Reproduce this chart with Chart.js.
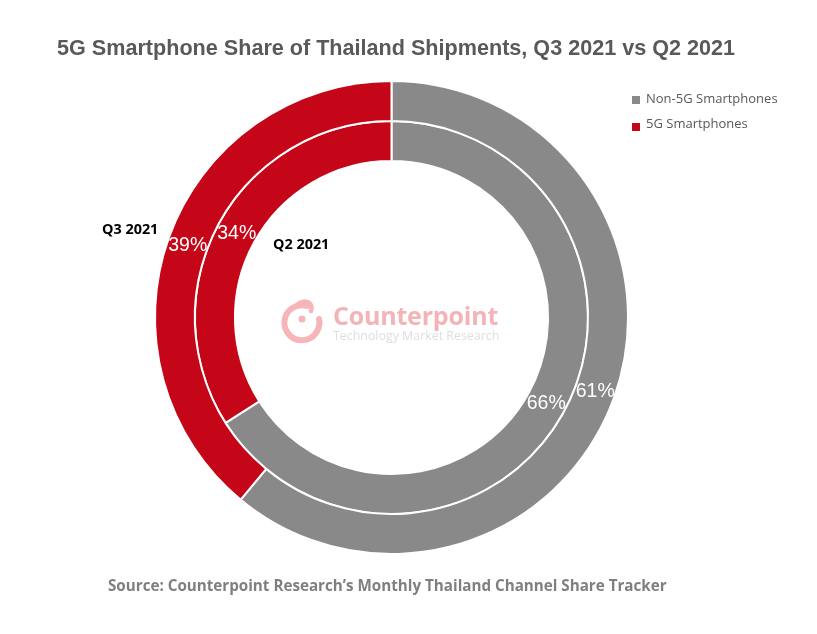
<!DOCTYPE html>
<html>
<head>
<meta charset="utf-8">
<script src="https://cdn.jsdelivr.net/npm/chart.js@4"></script>
<style>
  html, body { margin: 0; padding: 0; background: #fff; }
  #wrap { position: relative; width: 817px; height: 634px; overflow: hidden; }
  #wrap div { position: absolute; white-space: nowrap; }
  #title { left: 57px; top: 35px; font: bold 21.6px "Liberation Sans", sans-serif; color: #595959; }
  #source { left: 108px; top: 575px; font: bold 15.2px "Open Sans", sans-serif; color: #7f7f7f; }
  .ring { font: bold 14.4px "Open Sans", sans-serif; color: #000; }
  .key { left: 646px; font: 13px "Open Sans", sans-serif; color: #595959; }
  .swatch { left: 632px; width: 8px; height: 8px; }
  #brand { left: 333px; top: 298px; font: bold 25px "Open Sans", sans-serif; color: #f3b4b8; letter-spacing: -0.2px; }
  #tagline { left: 333px; top: 327px; font: 12.4px "Open Sans", sans-serif; color: #dedede; }
  svg { position: absolute; left: 281px; top: 298px; }
</style>
</head>
<body>
<div id="wrap">
  <canvas id="chart" width="817" height="634"></canvas>
  <div id="title">5G Smartphone Share of Thailand Shipments, Q3 2021 vs Q2 2021</div>
  <svg width="46" height="50" viewBox="0 0 46 50">
    <path d="M26 8 A17.5 17.5 0 1 0 38 21" fill="none" stroke="#f5b5b9" stroke-width="6" stroke-linecap="round"/>
    <path d="M14 9 C22 0 33 3 30 13" fill="none" stroke="#f5b5b9" stroke-width="4.5" stroke-linecap="round"/>
    <circle cx="21" cy="21" r="3.5" fill="#f5b5b9"/>
  </svg>
  <div id="brand">Counterpoint</div>
  <div id="tagline">Technology Market Research</div>
  <div class="ring" style="left:102px;top:219px">Q3 2021</div>
  <div class="ring" style="left:273px;top:234px">Q2 2021</div>
  <div class="swatch" id="sw0" style="top:96px"></div>
  <div class="key" id="key0" style="top:89px"></div>
  <div class="swatch" id="sw1" style="top:123px"></div>
  <div class="key" id="key1" style="top:114px"></div>
  <div id="source">Source: Counterpoint Research’s Monthly Thailand Channel Share Tracker</div>
</div>
<script>
var categories = ["Non-5G Smartphones", "5G Smartphones"];
var periods = ["Q3 2021", "Q2 2021"];
var q3Values = [61, 39];
var q2Values = [66, 34];
var colors = ["#898989", "#c40618"];

// percent labels in the middle of each slice
var sliceLabels = {
  id: "sliceLabels",
  afterDatasetsDraw: function (chart) {
    var ctx = chart.ctx;
    ctx.save();
    ctx.fillStyle = "#fff";
    ctx.font = '19.5px "Liberation Sans", sans-serif';
    ctx.textAlign = "center";
    ctx.textBaseline = "middle";
    chart.data.datasets.forEach(function (ds, i) {
      chart.getDatasetMeta(i).data.forEach(function (arc, j) {
        var p = arc.tooltipPosition();
        ctx.fillText(ds.data[j] + "%", p.x, p.y + 1);
      });
    });
    ctx.restore();
  }
};

new Chart(document.getElementById("chart"), {
  type: "doughnut",
  data: {
    labels: categories,
    datasets: [
      { label: periods[0], data: q3Values, backgroundColor: colors, borderColor: "#fff", borderWidth: 2 },
      { label: periods[1], data: q2Values, backgroundColor: colors, borderColor: "#fff", borderWidth: 2 }
    ]
  },
  options: {
    responsive: false,
    animation: false,
    cutout: "66.2%",
    layout: { padding: { left: 154, right: 188, top: 80, bottom: 79 } },
    plugins: { legend: { display: false }, tooltip: { enabled: false } }
  },
  plugins: [sliceLabels]
});

categories.forEach(function (name, i) {
  document.getElementById("key" + i).textContent = name;
  document.getElementById("sw" + i).style.background = colors[i];
});
</script>
</body>
</html>
